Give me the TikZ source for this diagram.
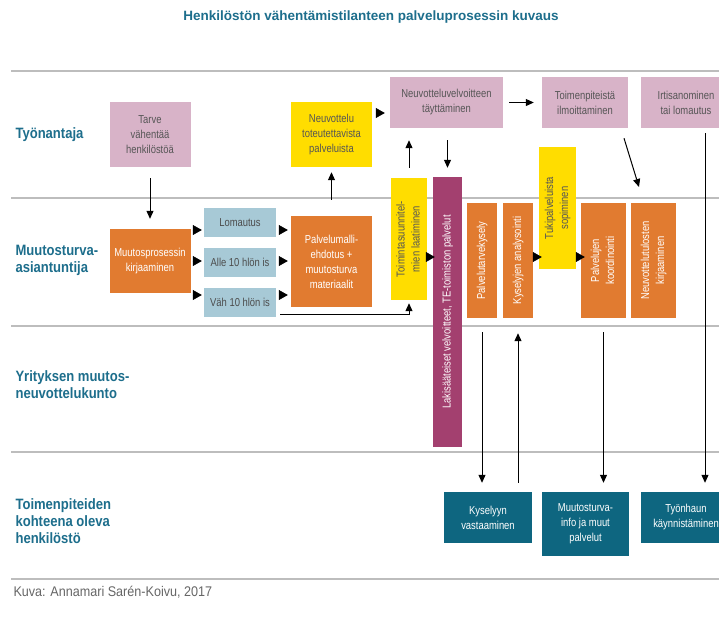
\documentclass[tikz,border=0pt]{standalone}
\usepackage{fontspec}
\setmainfont{Liberation Sans}
\newfontfamily\condfont{Liberation Sans}[FakeStretch=0.82]
\newfontfamily\lanefont{Liberation Sans}[FakeStretch=0.87]
\newfontfamily\capfont{Liberation Sans}[FakeStretch=0.9]
\usepackage{tikz}
\usetikzlibrary{arrows.meta, positioning, calc}

\definecolor{boxpink}{HTML}{D8B3C8}
\definecolor{boxyellow}{HTML}{FFDD00}
\definecolor{boxorange}{HTML}{E17B30}
\definecolor{boxblue}{HTML}{A7C9D6}
\definecolor{boxpurple}{HTML}{A3406F}
\definecolor{boxteal}{HTML}{0E6680}
\definecolor{lanetext}{HTML}{1D6E8C}
\definecolor{boxtext}{HTML}{555555}
\definecolor{laneline}{HTML}{BDBDBD}

% vertical text inside an upright box
\newcommand{\vtxt}[1]{\rotatebox{90}{\begin{tabular}{@{}c@{}}#1\end{tabular}}}

\begin{document}
\begin{tikzpicture}[x=1pt, y=-1pt,
  box/.style={inner sep=1pt, align=center, font={\condfont\fontsize{11.5}{15}\selectfont}},
  pinkbox/.style={box, fill=boxpink, text=boxtext},
  yellowbox/.style={box, fill=boxyellow, text=boxtext},
  orangebox/.style={box, fill=boxorange, text=white},
  bluebox/.style={box, fill=boxblue, text=boxtext!90!black},
  purplebox/.style={box, fill=boxpurple, text=white},
  tealbox/.style={box, fill=boxteal, text=white},
  lane/.style={anchor=west, align=left, text=lanetext, font={\lanefont\bfseries\fontsize{15}{17}\selectfont}},
  sep/.style={draw=laneline, line width=1.3pt},
  arr/.style={-{Triangle[length=8pt, width=7pt]}, line width=1pt},
  tri/.style={-{Triangle[length=9pt, width=10pt]}, line width=0.6pt},
]
\useasboundingbox (0,0) rectangle (719,625);
\fill[white] (0,0) rectangle (719,625);

% ===== Title and lanes =====
\node[text=lanetext, font={\bfseries\fontsize{13.5}{16}\selectfont}] (title) at (371, 17) {Henkilöstön vähentämistilanteen palveluprosessin kuvaus};

\draw[sep] (11, 71) -- (719, 71);
\draw[sep] (11, 198) -- (719, 198);
\draw[sep] (11, 326) -- (719, 326);
\draw[sep] (11, 452) -- (719, 452);
\draw[sep] (11, 579) -- (719, 579);

\node[lane] (l1) at (12, 135) {Työnantaja};
\node[lane] (l2) at (12, 260) {Muutosturva-\\asiantuntija};
\node[lane] (l3) at (12, 385) {Yrityksen muutos-\\neuvottelukunto};
\node[lane] (l4) at (12, 521) {Toimenpiteiden\\kohteena oleva\\henkilöstö};

% ===== Työnantaja =====
\node[pinkbox, minimum width=81, minimum height=65] (tarve) at (150, 134.5) {Tarve\\vähentää\\henkilöstöä};
\node[yellowbox, minimum width=81, minimum height=65] (neuvottelu) at (331.5, 134.5) {Neuvottelu\\toteutettavista\\palveluista};
\node[pinkbox, minimum width=113, minimum height=51] (velvoite) at (446.5, 102.5) {Neuvotteluvelvoitteen\\täyttäminen};
\node[pinkbox, minimum width=86, minimum height=51] (ilmoitus) at (585, 102.5) {Toimenpiteistä\\ilmoittaminen};
\node[pinkbox, minimum width=90, minimum height=51] (irtisanominen) at (686, 102.5) {Irtisanominen\\tai lomautus};

% ===== Muutosturva-asiantuntija =====
\node[orangebox, minimum width=81, minimum height=64] (kirjaus) at (150, 261) {Muutosprosessin\\kirjaaminen};
\node[bluebox, minimum width=72, minimum height=29] (lomautus) at (240, 222.5) {Lomautus};
\node[bluebox, minimum width=72, minimum height=29] (alle) at (240, 262) {Alle 10 hlön is};
\node[bluebox, minimum width=72, minimum height=29] (vah) at (240, 302) {Väh 10 hlön is};
\node[orangebox, minimum width=81, minimum height=91] (malli) at (331.5, 261.5) {Palvelumalli-\\ehdotus +\\muutosturva\\materiaalit};

\node[yellowbox, minimum width=36, minimum height=122] (suunnitelma) at (409, 239) {\vtxt{Toimintasuunnitel-\\mien laatiminen}};
\node[purplebox, minimum width=29, minimum height=270] (laki) at (447.5, 312) {\vtxt{Lakisääteiset velvoitteet, TE-toimiston palvelut}};
\node[orangebox, minimum width=30, minimum height=115] (kysely) at (482, 260.5) {\vtxt{Palvelutarvekysely}};
\node[orangebox, minimum width=30, minimum height=115] (analyysi) at (518, 260.5) {\vtxt{Kyselyjen analysointi}};
\node[yellowbox, minimum width=37, minimum height=122] (tuki) at (557.5, 208) {\vtxt{Tukipalveluista\\sopiminen}};
\node[orangebox, minimum width=45, minimum height=115] (koordinointi) at (603.5, 260.5) {\vtxt{Palvelujen\\koordinointi}};
\node[orangebox, minimum width=45, minimum height=115] (tulokset) at (653.5, 260.5) {\vtxt{Neuvottelutulosten\\kirjaaminen}};

% ===== Henkilöstö =====
\node[tealbox, minimum width=88, minimum height=51] (vastaus) at (488, 517.5) {Kyselyyn\\vastaaminen};
\node[tealbox, minimum width=87, minimum height=64] (info) at (585.5, 524) {Muutosturva-\\info ja muut\\palvelut};
\node[tealbox, minimum width=90, minimum height=51] (tyonhaku) at (686, 517.5) {Työnhaun\\käynnistäminen};

% ===== Arrows =====
\draw[arr, shorten <=11pt, shorten >=10pt] (tarve) -- (kirjaus);
\draw[tri, shorten <=4pt, shorten >=5pt] (neuvottelu.east |- 0,113) -- (velvoite.west |- 0,113);
\draw[arr, shorten <=6pt, shorten >=8pt] (velvoite) -- (ilmoitus);
\draw[arr, shorten <=16pt, shorten >=5pt] (malli) -- (neuvottelu);
\draw[arr, shorten <=10pt, shorten >=12pt] (suunnitelma) -- (suunnitelma |- velvoite.south);
\draw[arr, shorten <=12pt, shorten >=9pt] (laki |- velvoite.south) -- (laki);
\coordinate (diagend) at (639, 187);
\draw[arr] ([xshift=39pt, yshift=-10pt]ilmoitus.south) -- (diagend);
\draw[arr, shorten <=5pt, shorten >=9pt] ([xshift=19pt]irtisanominen.south) -- ([xshift=19pt]tyonhaku.north);

% small triangles between the boxes
\draw[tri, shorten <=2pt, shorten >=2pt] (kirjaus.east |- 0,230) -- (lomautus.west |- 0,230);
\draw[tri, shorten <=2pt, shorten >=2pt] (kirjaus.east |- 0,261) -- (alle.west |- 0,261);
\draw[tri, shorten <=2pt, shorten >=2pt] (kirjaus.east |- 0,295) -- (vah.west |- 0,295);
\draw[tri, shorten <=3pt, shorten >=3pt] (lomautus.east |- 0,230) -- (malli.west |- 0,230);
\draw[tri, shorten <=3pt, shorten >=3pt] (alle.east |- 0,261) -- (malli.west |- 0,261);
\draw[tri, shorten <=3pt, shorten >=3pt] (vah.east |- 0,295) -- (malli.west |- 0,295);
\draw[arr, shorten <=4pt, shorten >=3pt] (vah.east |- 0,314) -| (suunnitelma);
\draw[tri, shorten >=-2pt] (suunnitelma.east |- 0,257) -- (laki.west |- 0,257);
\draw[tri, shorten >=-3pt] (analyysi.east |- 0,257) -- (tuki.west |- 0,257);
\draw[tri, shorten >=-4pt] (tuki.east |- 0,257) -- (koordinointi.west |- 0,257);

% to and from the staff
\draw[arr, shorten <=14pt, shorten >=9pt] (kysely) -- (kysely |- vastaus.north);
\draw[arr, shorten <=9pt, shorten >=15pt] (analyysi |- vastaus.north) -- (analyysi);
\draw[arr, shorten <=14pt, shorten >=9pt] (koordinointi) -- (koordinointi |- info.north);

% ===== Caption =====
\node[anchor=west, text=black!60, font={\capfont\fontsize{14}{16}\selectfont}] (kuva) at (10, 592) {Kuva: Annamari Sarén-Koivu, 2017};

\end{tikzpicture}
\end{document}
